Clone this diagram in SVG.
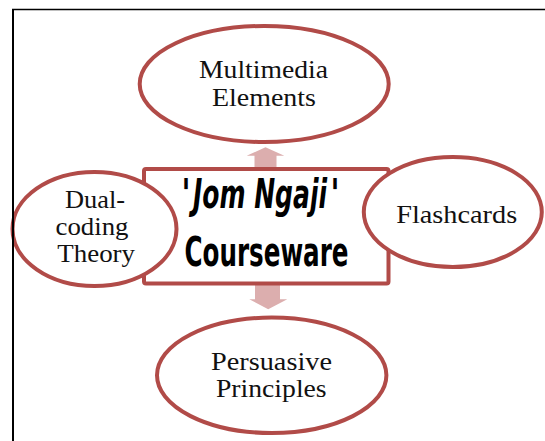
<svg xmlns="http://www.w3.org/2000/svg" width="545" height="441" viewBox="0 0 545 441">
<style>
.node{fill:#ffffff;stroke:#b14b48;stroke-width:4}
.lbl{font-family:"Liberation Serif","Times New Roman",serif;font-size:26px;fill:#111111;text-anchor:middle}
.title{font-family:"DejaVu Sans Condensed","DejaVu Sans","Liberation Sans",sans-serif;font-weight:bold;font-size:40px;fill:#000000}
.arrow{fill:#dcaeae;stroke:none}
.frame{stroke:#000000;fill:none}
</style>
<rect x="0" y="0" width="545" height="441" fill="#ffffff"/>
<g id="connectors">
<path class="arrow" d="M265.5,147.3 L284.3,155.7 L276.5,155.7 L276.5,168 L254.5,168 L254.5,155.7 L246.7,155.7 Z"/>
<path class="arrow" d="M255,284 L280,284 L280,299.3 L287.3,299.3 L268.2,309.3 L249.3,299.3 L255,299.3 Z"/>
</g>
<g id="center">
<rect class="node" x="144" y="169" width="244.5" height="114.5" rx="2" stroke-width="4.6"/>
<text class="title" x="181.5" y="208.3" textLength="9" lengthAdjust="spacingAndGlyphs">'</text>
<text class="title" x="193" y="208.3" font-style="italic" textLength="134" lengthAdjust="spacingAndGlyphs">Jom Ngaji</text>
<text class="title" x="330.5" y="208.3" textLength="9" lengthAdjust="spacingAndGlyphs">'</text>
<text class="title" x="184.5" y="266" textLength="164" lengthAdjust="spacingAndGlyphs">Courseware</text>
</g>
<g id="multimedia">
<ellipse class="node" cx="264.2" cy="84" rx="124.5" ry="58"/>
<text class="lbl" x="263.5" y="77.7" textLength="129" lengthAdjust="spacingAndGlyphs">Multimedia</text>
<text class="lbl" x="264" y="106" textLength="104" lengthAdjust="spacingAndGlyphs">Elements</text>
</g>
<g id="persuasive">
<ellipse class="node" cx="271.7" cy="375.3" rx="114.7" ry="57.7"/>
<text class="lbl" x="271.5" y="370" textLength="121" lengthAdjust="spacingAndGlyphs">Persuasive</text>
<text class="lbl" x="271.3" y="397.3" textLength="110.7" lengthAdjust="spacingAndGlyphs">Principles</text>
</g>
<g id="dualcoding">
<ellipse class="node" cx="94.5" cy="229" rx="82" ry="57"/>
<text class="lbl" x="95" y="208.3" textLength="60" lengthAdjust="spacingAndGlyphs">Dual-</text>
<text class="lbl" x="92" y="235" textLength="73" lengthAdjust="spacingAndGlyphs">coding</text>
<text class="lbl" x="96.2" y="261.7" textLength="77.7" lengthAdjust="spacingAndGlyphs">Theory</text>
</g>
<g id="flashcards">
<ellipse class="node" cx="452.8" cy="212" rx="89" ry="55"/>
<text class="lbl" x="456.7" y="222.7" textLength="121" lengthAdjust="spacingAndGlyphs">Flashcards</text>
</g>
<g id="frame">
<line class="frame" x1="12" y1="9.5" x2="545" y2="9.5" stroke-width="1.5"/>
<line class="frame" x1="13" y1="9" x2="13" y2="441" stroke-width="2"/>
</g>
</svg>
